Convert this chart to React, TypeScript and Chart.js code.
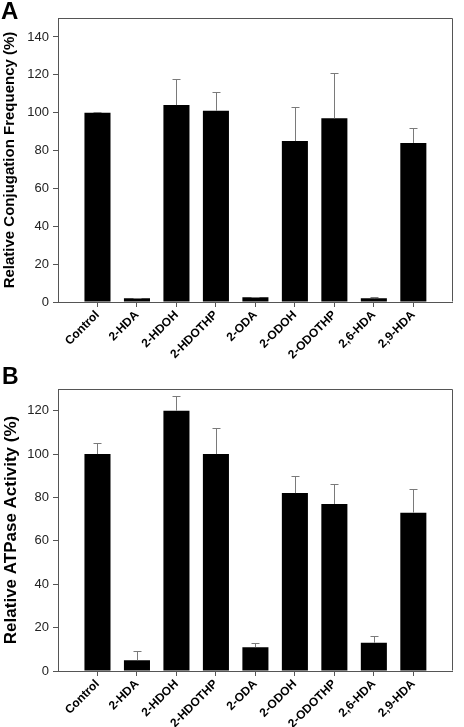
import React, { useEffect, useRef } from "react";
import { Chart, registerables } from "chart.js";

Chart.register(...registerables);

const categories = ["Control", "2-HDA", "2-HDOH", "2-HDOTHP", "2-ODA", "2-ODOH", "2-ODOTHP", "2,6-HDA", "2,9-HDA"];
const conjugationValues = [100, 2, 104, 101, 2.5, 85, 97, 2, 84];
const conjugationErrors = [0.4, 0.3, 14, 10, 0.4, 18, 24, 0.4, 7.7];
const atpaseValues = [100, 5, 120, 100, 11, 82, 77, 13, 73];
const atpaseErrors = [5, 4, 7, 12, 2, 8, 9, 3, 11];
const conjugationTicks = [0, 20, 40, 60, 80, 100, 120, 140];
const atpaseTicks = [0, 20, 40, 60, 80, 100, 120];

const FONT = "'Liberation Sans', Arial, Helvetica, sans-serif";

const framePlugin = {
  id: "frame",
  afterDraw(chart: any) {
    const { ctx, chartArea } = chart;
    const l = Math.round(chartArea.left) + 0.5;
    const r = Math.round(chartArea.right) - 0.5;
    const t = Math.round(chartArea.top) + 0.5;
    const b = Math.round(chartArea.bottom) - 0.5;
    ctx.save();
    ctx.strokeStyle = "#555";
    ctx.lineWidth = 1;
    ctx.beginPath();
    ctx.moveTo(l, t);
    ctx.lineTo(r, t);
    ctx.lineTo(r, b);
    ctx.stroke();
    ctx.restore();
  },
};

const errorBarPlugin = {
  id: "errorBars",
  afterDatasetsDraw(chart: any, _args: any, opts: any) {
    const errs: number[] = opts.errors || [];
    const meta = chart.getDatasetMeta(0);
    const ys = chart.scales.y;
    const data = chart.data.datasets[0].data;
    const { ctx } = chart;
    ctx.save();
    ctx.strokeStyle = "#7a7a7a";
    ctx.lineWidth = 1;
    meta.data.forEach((el: any, i: number) => {
      const v = data[i];
      if (v === null || v === undefined) return;
      const e = errs[i - 1];
      if (e === undefined) return;
      const x = Math.round(el.x) + 0.5;
      const y1 = ys.getPixelForValue(v);
      const y2 = Math.round(ys.getPixelForValue(v + e)) + 0.5;
      ctx.beginPath();
      ctx.moveTo(x, y1);
      ctx.lineTo(x, y2);
      ctx.moveTo(x - 4, y2);
      ctx.lineTo(x + 4, y2);
      ctx.stroke();
    });
    ctx.restore();
  },
};

function makeConfig(values: number[], errors: number[], ticks: number[], max: number, title: string, titleSize: number, padTop: number, xHeight: number) {
  const labels = ["", ...categories, ""];
  const data = [null, ...values, null];
  return {
    type: "bar",
    data: {
      labels,
      datasets: [
        {
          data,
          backgroundColor: "#000",
          borderWidth: 0,
          barPercentage: 0.66,
          categoryPercentage: 1,
        },
      ],
    },
    options: {
      responsive: false,
      animation: false,
      devicePixelRatio: 1,
      layout: { padding: { top: padTop, right: 1, left: 0, bottom: 0 } },
      plugins: {
        legend: { display: false },
        tooltip: { enabled: false },
        errorBars: { errors },
      },
      scales: {
        x: {
          type: "category",
          offset: false,
          grid: {
            offset: false,
            drawOnChartArea: false,
            drawTicks: true,
            tickLength: 5,
            tickColor: (c: any) => (c.index === 0 || c.index === labels.length - 1 ? "rgba(0,0,0,0)" : "#555"),
          },
          border: { display: true, color: "#555", width: 1 },
          ticks: {
            autoSkip: false,
            maxRotation: 45,
            minRotation: 45,
            padding: 1,
            color: "#000",
            font: { family: FONT, size: 12, weight: "bold" },
          },
          afterFit: (s: any) => {
            s.height = xHeight;
          },
        },
        y: {
          min: 0,
          max,
          afterBuildTicks: (s: any) => {
            s.ticks = ticks.map((v) => ({ value: v }));
          },
          grid: {
            drawOnChartArea: false,
            drawTicks: true,
            tickLength: 5,
            tickColor: "#555",
          },
          border: { display: true, color: "#555", width: 1 },
          ticks: {
            padding: 4,
            color: "#222",
            font: { family: FONT, size: 13 },
          },
          title: {
            display: true,
            text: title,
            color: "#000",
            padding: { top: 1, bottom: 0 },
            font: { family: FONT, size: titleSize, weight: "bold" },
          },
          afterFit: (s: any) => {
            s.width = 58;
          },
        },
      },
    },
    plugins: [framePlugin, errorBarPlugin],
  };
}

function BarPanel(props: { config: any; width: number; height: number; top: number }) {
  const ref = useRef<HTMLCanvasElement | null>(null);
  useEffect(() => {
    if (!ref.current) return;
    const chart = new Chart(ref.current, props.config);
    return () => chart.destroy();
  }, []);
  return (
    <canvas
      ref={ref}
      width={props.width}
      height={props.height}
      style={{ position: "absolute", left: 0, top: props.top, width: props.width, height: props.height }}
    />
  );
}

export default function App() {
  const cfgA = makeConfig(conjugationValues, conjugationErrors, conjugationTicks, 150, "Relative Conjugation Frequency (%)", 15, 18, 60);
  const cfgB = makeConfig(atpaseValues, atpaseErrors, atpaseTicks, 130, "Relative ATPase Activity (%)", 17, 27, 56);
  const letter: React.CSSProperties = {
    position: "absolute",
    fontFamily: FONT,
    fontWeight: "bold",
    color: "#000",
    lineHeight: 1,
    margin: 0,
  };
  return (
    <div style={{ position: "fixed", left: 0, top: 0, width: 464, height: 727, background: "#fff", overflow: "hidden" }}>
      <BarPanel config={cfgA} width={464} height={362} top={0} />
      <BarPanel config={cfgB} width={464} height={365} top={362} />
      <div style={{ ...letter, left: 1, top: -1, fontSize: 24 }}>A</div>
      <div style={{ ...letter, left: 2, top: 365, fontSize: 23 }}>B</div>
    </div>
  );
}
